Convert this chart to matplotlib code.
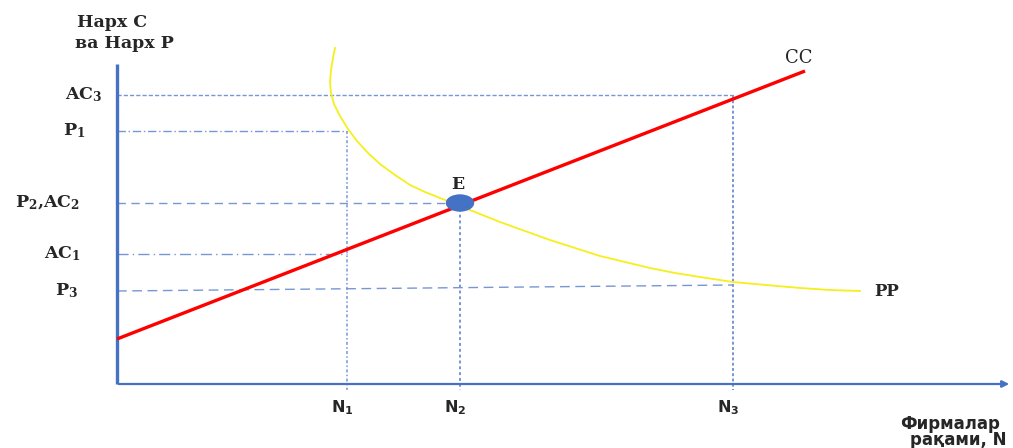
"""
Монополистик рақобат: CC ва PP эгри чизиқлари, E мувозанат нуқтаси.
"""
import matplotlib.pyplot as plt
from matplotlib.patches import Ellipse, FancyArrowPatch

SERIF = ['DejaVu Serif']
SANS = ['DejaVu Sans']

# фирмалар сони (x) ва нарх даражалари (y)
n_labels = [r'$\mathregular{N_1}$', r'$\mathregular{N_2}$', r'$\mathregular{N_3}$']
n_values = [230, 343, 616]

ac3 = 289
p1 = 253
p2_ac2 = 181
ac1 = 130
p3 = 93
p3_end = 99          # P3 чизиғи N3 да бироз кўтарилган

# CC (ўртача харажат) тўғри чизиғи
cc_x = [0, 688]
cc_y = [45, 313]

# PP эгри чизиғи
pp_x = [218, 216, 214, 213, 214, 217, 223, 231, 240, 251, 263, 278, 293,
        308, 323, 343, 363, 383, 408, 433, 458, 483, 508, 533, 558, 583,
        616, 649, 683, 713, 743]
pp_y = [336, 326, 314, 302, 291, 280, 268, 255, 243, 231, 220, 209, 199,
        192, 186, 178, 170, 162, 153, 144, 136, 128, 122, 116, 111, 107,
        102, 99, 96, 94, 93]

e_point = (343, 181)

BLUE = '#4472C4'
GUIDE = '#7896D4'
TXT = '#262626'

fig = plt.figure(figsize=(10.13, 4.48), dpi=100)
fig.patch.set_facecolor('white')
ax = fig.add_axes([0, 0, 1, 1])
ax.set_xlim(-117, 896)
ax.set_ylim(-64, 384)
ax.axis('off')

n1, n2, n3 = n_values

# ёрдамчи чизиқлар
ax.plot([0, n3], [ac3, ac3], color=GUIDE, lw=1.0, dashes=(3, 1.5), zorder=2)
ax.plot([0, n1], [p1, p1], color=GUIDE, lw=1.0, dashes=(6, 2, 1, 2), zorder=2)
ax.plot([0, n2], [p2_ac2, p2_ac2], color=GUIDE, lw=1.0, dashes=(6, 4), zorder=2)
ax.plot([0, n1], [ac1, ac1], color=GUIDE, lw=1.0, dashes=(8, 3, 1, 3), zorder=2)
ax.plot([0, n3], [p3, p3_end], color=GUIDE, lw=1.0, dashes=(7, 4), zorder=2)

ax.plot([n1, n1], [p1, -6], color=GUIDE, lw=1.1, dashes=(2, 1.5, 1, 1.5), zorder=2)
ax.plot([n2, n2], [p2_ac2, -6], color=GUIDE, lw=1.4, dashes=(1.5, 1.5), zorder=2)
ax.plot([n3, n3], [ac3, -6], color=GUIDE, lw=1.4, dashes=(1.5, 1.2), zorder=2)

# ўқлар
ax.plot([0, 0], [0, 320], color=BLUE, lw=2.4, solid_capstyle='butt', zorder=3)
ax.add_patch(FancyArrowPatch((-1, 0), (895, 0), arrowstyle='-|>',
                             mutation_scale=10, color=BLUE, lw=1.6, zorder=3))

# эгри чизиқлар
ax.plot(pp_x, pp_y, color='#F5EF1C', lw=1.3, zorder=4)
ax.plot(cc_x, cc_y, color='#FF0000', lw=2.4, solid_capstyle='butt', zorder=5)
ax.add_patch(Ellipse(e_point, 27, 16, color=BLUE, zorder=6))

# матнлар
ax.text(-40, 362, 'Нарх С', family=SERIF, fontweight='bold', fontsize=12.5,
        color=TXT, va='center')
ax.text(-42, 341, 'ва Нарх Р', family=SERIF, fontweight='bold', fontsize=12.5,
        color=TXT, va='center')

y_ticks = [(ac3, r'$\mathregular{AC_3}$', -15), (p1, r'$\mathregular{P_1}$', -32),
           (p2_ac2, r'$\mathregular{P_2}$,$\mathregular{AC_2}$', -37),
           (ac1, r'$\mathregular{AC_1}$', -36), (p3, r'$\mathregular{P_3}$', -39)]
for y, lab, xr in y_ticks:
    ax.text(xr, y, lab, family=SERIF, fontweight='bold', fontsize=12.5,
            color=TXT, ha='right', va='center')

for x, lab in zip(n_values, n_labels):
    ax.text(x - 5, -24, lab, family=SANS, fontweight='bold', fontsize=11.5,
            color=TXT, ha='center', va='center')

ax.text(e_point[0] - 2, e_point[1] + 19, 'E', family=SERIF, fontweight='bold',
        fontsize=12.5, color=TXT, ha='center', va='center')
ax.text(682, 326, 'CC', family=SERIF, fontsize=13, color=TXT,
        ha='center', va='center')
ax.text(770, 93, 'PP', family=SERIF, fontweight='bold', fontsize=12,
        color=TXT, ha='center', va='center')

ax.text(783, -40, 'Фирмалар', family=SANS, fontweight='bold', fontsize=12,
        color=TXT, ha='left', va='center')
ax.text(793, -56, 'рақами, N', family=SANS, fontweight='bold', fontsize=12,
        color=TXT, ha='left', va='center')

fig.savefig('out.png', dpi=100, facecolor='white')
plt.close(fig)
